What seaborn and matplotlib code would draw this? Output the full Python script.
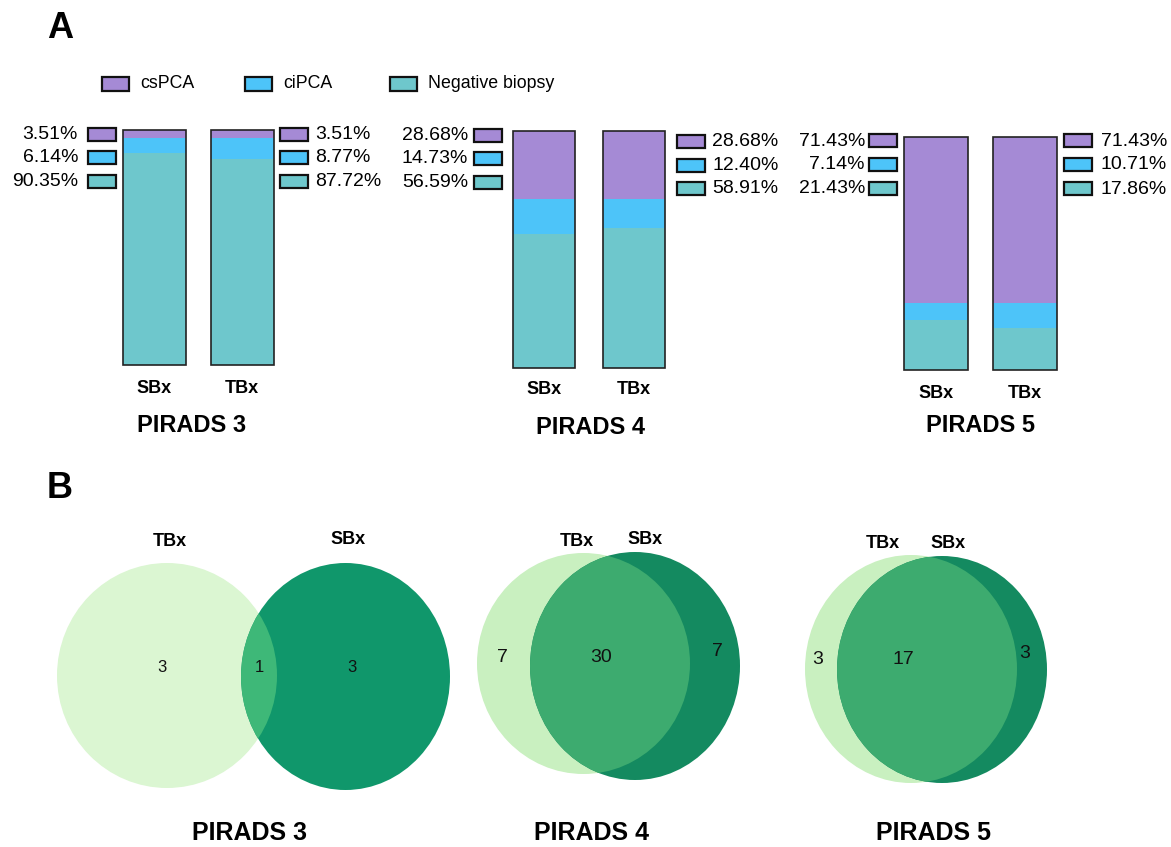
import matplotlib
matplotlib.use("Agg")
import matplotlib.pyplot as plt
from matplotlib.patches import Rectangle, Ellipse
from matplotlib import font_manager
import pandas as pd
import seaborn as sns

# ---- data -------------------------------------------------------------
groups = ["PIRADS 3", "PIRADS 4", "PIRADS 5"]
biopsies = ["SBx", "TBx"]
categories = ["csPCA", "ciPCA", "Negative biopsy"]
cspca = [[3.51, 3.51], [28.68, 28.68], [71.43, 71.43]]
cipca = [[6.14, 8.77], [14.73, 12.40], [7.14, 10.71]]
negative = [[90.35, 87.72], [56.59, 58.91], [21.43, 17.86]]

venn_sets = ["TBx", "SBx"]
venn_tbx_only = [3, 7, 3]
venn_both = [1, 30, 17]
venn_sbx_only = [3, 7, 3]

# ---- style ------------------------------------------------------------
W, H = 1171, 847
sns.set_theme(style="white")
plt.rcParams["font.family"] = ["Liberation Sans", "DejaVu Sans"]
plt.rcParams["text.color"] = "black"
plt.rcParams["xtick.color"] = "black"
plt.rcParams["xtick.labelcolor"] = "black"
available = {f.name for f in font_manager.fontManager.ttflist}
narrow = "Liberation Sans Narrow" if "Liberation Sans Narrow" in available else "Liberation Sans"

cat_colors = {"csPCA": "#a58ad5", "ciPCA": "#4dc4f9", "Negative biopsy": "#6ec7cc"}
box_edge = "#111111"
bar_edge = "#222222"

fig = plt.figure(figsize=(W / 100, H / 100), dpi=100)

# full-figure overlay in pixel units for annotations and the Venn panel
ov = fig.add_axes([0, 0, 1, 1])
ov.set_xlim(0, W)
ov.set_ylim(H, 0)
ov.axis("off")
ov.patch.set_alpha(0)


def px_axes(left, top, width, height):
    return fig.add_axes([left / W, (H - top - height) / H, width / W, height / H])


def key_box(x, yc, cat, w=28, h=13):
    ov.add_patch(Rectangle((x, yc - h / 2), w, h, facecolor=cat_colors[cat],
                           edgecolor=box_edge, linewidth=1.6, zorder=3))


# ---- panel letters ----------------------------------------------------
ov.text(60, 29, "A", fontsize=26, fontweight="bold", ha="center", va="center")
ov.text(60, 489, "B", fontsize=26, fontweight="bold", ha="center", va="center")

# ---- top legend -------------------------------------------------------
legend_x = [102, 245, 390]
for cat, lx in zip(categories, legend_x):
    key_box(lx, 84, cat, w=27, h=14)
    ov.text(lx + 38, 84, cat, fontsize=12.8, ha="left", va="center")

# ---- panel A: stacked bars -------------------------------------------
# per group: first bar centre, bar spacing, bottom/top pixel, bar width, tick pad
bar_layout = [
    dict(c0=154.5, s=87.5, yb=365, yt=130, w=0.72, pad=10.5),
    dict(c0=544.0, s=90.0, yb=368, yt=131, w=0.69, pad=9.0),
    dict(c0=936.0, s=89.0, yb=370, yt=137, w=0.71, pad=11.0),
]
title_pos = [(192, 425), (590, 427), (981, 426)]
# label key positions: (left box x, left text right edge, left box y centres,
#                       right box x, right text left edge, right box y centres)
key_layout = [
    (88, 78, [134.5, 158, 182], 280, 315, [134.5, 158, 182]),
    (474, 468, [135.5, 158.5, 182.5], 677, 712, [141.5, 165.5, 188.5]),
    (869, 865, [141, 164.5, 188.5], 1064, 1101, [141, 164.5, 189]),
]

for gi, g in enumerate(groups):
    L = bar_layout[gi]
    ax = px_axes(L["c0"] - 0.5 * L["s"], L["yt"], 2 * L["s"], L["yb"] - L["yt"])
    df = pd.DataFrame({
        "biopsy": biopsies,
        "neg": negative[gi],
        "ci": cipca[gi],
        "cs": cspca[gi],
    })
    df["low"] = df["neg"]
    df["mid"] = df["neg"] + df["ci"]
    df["top"] = df["neg"] + df["ci"] + df["cs"]
    for col, cat in [("top", "csPCA"), ("mid", "ciPCA"), ("low", "Negative biopsy")]:
        sns.barplot(data=df, x="biopsy", y=col, color=cat_colors[cat], width=L["w"],
                    saturation=1, errorbar=None, linewidth=0, ax=ax)
    for p in list(ax.patches[:2]):
        ax.add_patch(Rectangle(p.get_xy(), p.get_width(), p.get_height(), fill=False,
                               edgecolor=bar_edge, linewidth=1.2, zorder=5, clip_on=False))
    ax.set_xlim(-0.5, 1.5)
    ax.set_ylim(0, 100)
    ax.set_yticks([])
    ax.set_xlabel("")
    ax.set_ylabel("")
    ax.tick_params(axis="x", length=0, pad=L["pad"], labelsize=13, labelcolor="black")
    for t in ax.get_xticklabels():
        t.set_fontweight("bold")
    sns.despine(ax=ax, left=True, bottom=True)
    ax.patch.set_alpha(0)

    tx, ty = title_pos[gi]
    ov.text(tx, ty, g, fontsize=17, fontweight="bold", ha="center", va="center")

    lbx, ltx, lys, rbx, rtx, rys = key_layout[gi]
    left_vals = [cspca[gi][0], cipca[gi][0], negative[gi][0]]
    right_vals = [cspca[gi][1], cipca[gi][1], negative[gi][1]]
    for cat, v, y in zip(categories, left_vals, lys):
        key_box(lbx, y, cat)
        ov.text(ltx, y, f"{v:.2f}%", fontsize=14, ha="right", va="center")
    for cat, v, y in zip(categories, right_vals, rys):
        key_box(rbx, y, cat)
        ov.text(rtx, y, f"{v:.2f}%", fontsize=14, ha="left", va="center")

# ---- panel B: Venn diagrams ------------------------------------------
venn_geom = [
    dict(t=((167, 675.5), 220, 225), s=((345.5, 676.5), 209, 227),
         light="#dbf6d2", dark="#10976b", mid="#3eb878", num_size=12,
         lab=[(170, 542), (348, 540)],
         nums=[(162, 668), (259, 668), (352, 668)]),
    dict(t=((583.5, 663.5), 213, 221), s=((635, 666), 210, 228),
         light="#c9f0c0", dark="#148a60", mid="#3dab6f", num_size=14,
         lab=[(577, 542), (645, 540)],
         nums=[(502, 658), (601, 658), (717, 652)]),
    dict(t=((911, 669), 212, 228), s=((942, 669.5), 210, 227),
         light="#c9f0c0", dark="#148a60", mid="#3dab6f", num_size=14,
         lab=[(883, 543), (948, 543)],
         nums=[(818, 660), (903, 660), (1025, 653)]),
]
venn_titles_x = [249, 592, 933]

for gi, g in enumerate(groups):
    G = venn_geom[gi]
    (tc, tw, th), (sc, sw, sh) = G["t"], G["s"]
    e_t = Ellipse(tc, tw, th, facecolor=G["light"], edgecolor="none", zorder=1)
    e_s = Ellipse(sc, sw, sh, facecolor=G["dark"], edgecolor="none", zorder=1.1)
    e_i = Ellipse(sc, sw, sh, facecolor=G["mid"], edgecolor="none", zorder=1.2)
    ov.add_patch(e_t)
    ov.add_patch(e_s)
    ov.add_patch(e_i)
    e_i.set_clip_path(e_t)

    for name, (lx, ly) in zip(venn_sets, G["lab"]):
        ov.text(lx, ly, name, fontsize=13, fontweight="bold", ha="center", va="center")
    counts = [venn_tbx_only[gi], venn_both[gi], venn_sbx_only[gi]]
    for n, (nx, ny) in zip(counts, G["nums"]):
        ov.text(nx, ny, str(n), fontsize=G["num_size"], ha="center", va="center",
                color="#111111", zorder=4)
    ov.text(venn_titles_x[gi], 833, g, fontsize=18, fontweight="bold",
            family=[narrow, "DejaVu Sans"], ha="center", va="center")

fig.savefig("out.png", dpi=100)
